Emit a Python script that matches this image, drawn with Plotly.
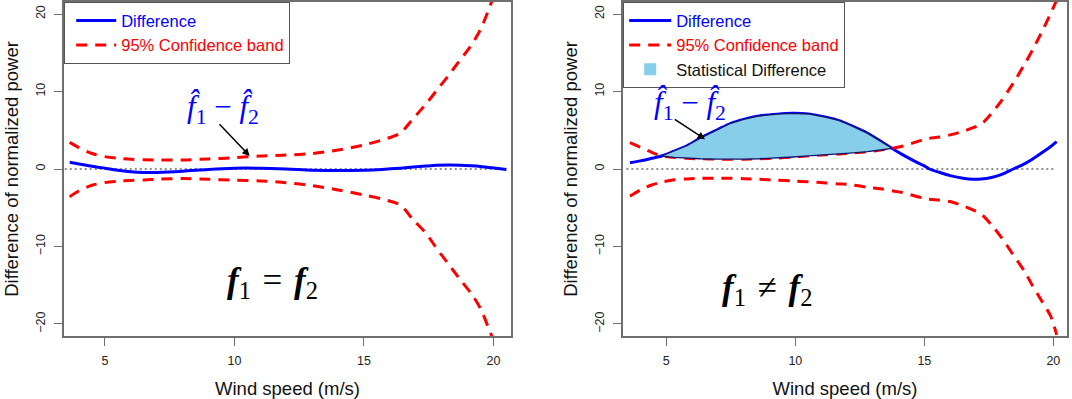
import numpy as np
import plotly.graph_objects as go

# ---------------- data: left panel (f1 = f2) ----------------
wind_left = [3.64, 4.0, 4.5, 5.0, 5.5, 6.0, 6.5, 7.0, 8.0, 9.0, 10.0, 11.0, 12.0, 13.0,
             14.0, 15.0, 15.7, 16.4, 16.9, 17.4, 17.8, 18.25, 18.7, 19.15, 19.5, 19.8, 20.1, 20.5]
diff_left = [0.86, 0.65, 0.35, 0.1, -0.15, -0.35, -0.45, -0.45, -0.3, -0.05, 0.1, 0.1, 0.0, -0.15,
             -0.2, -0.15, -0.05, 0.1, 0.25, 0.38, 0.47, 0.52, 0.5, 0.42, 0.32, 0.2, 0.1, -0.05]
upper_left = [3.44, 2.75, 2.0, 1.6, 1.38, 1.25, 1.18, 1.16, 1.16, 1.3, 1.45, 1.68, 1.8, 2.0,
              2.45, 3.1, 3.74, 4.62, 6.5, 8.4, 10.1, 12.0, 14.0, 16.0, 18.0, 20.4, 23.2, 27.0]
lower_left = [-3.57, -2.8, -2.1, -1.75, -1.58, -1.48, -1.42, -1.33, -1.22, -1.33, -1.45, -1.55, -1.76, -2.15,
              -2.7, -3.35, -3.87, -4.65, -6.55, -8.3, -10.2, -12.2, -14.2, -16.1, -18.0, -20.4, -23.0, -27.0]

# ---------------- data: right panel (f1 != f2) ----------------
wind_right = [3.59, 4.0, 4.4, 4.82, 5.3, 5.8, 6.3, 7.0, 7.5, 8.0, 8.6, 9.3, 9.9, 10.5, 11.2, 11.7,
              12.1, 12.8, 13.3, 13.74, 14.1, 14.6, 15.0, 15.2, 15.6, 16.0, 16.5, 16.9, 17.2, 17.6,
              18.0, 18.45, 18.9, 19.2, 19.6, 19.9, 20.13]
diff_right = [0.82, 1.05, 1.35, 1.68, 2.3, 3.0, 3.95, 5.1, 5.9, 6.4, 6.84, 7.08, 7.18, 7.1, 6.67, 6.23,
              5.68, 4.6, 3.6, 2.67, 1.95, 1.05, 0.4, 0.0, -0.45, -0.85, -1.2, -1.33, -1.3, -1.1,
              -0.7, 0.0, 0.7, 1.3, 2.2, 2.9, 3.52]
upper_right = [3.4, 2.8, 2.2, 1.68, 1.5, 1.38, 1.32, 1.27, 1.25, 1.27, 1.32, 1.42, 1.55, 1.7, 1.85, 1.94,
               2.05, 2.24, 2.45, 2.67, 2.9, 3.4, 3.83, 3.95, 4.12, 4.4, 4.85, 5.35, 5.75, 7.15,
               8.85, 11.1, 13.6, 15.4, 18.0, 20.1, 21.8]
lower_right = [-3.5, -2.7, -2.1, -1.7, -1.4, -1.28, -1.2, -1.2, -1.2, -1.25, -1.33, -1.45, -1.55, -1.65, -1.8, -1.92,
               -2.0, -2.35, -2.55, -2.8, -3.0, -3.45, -3.78, -3.9, -4.02, -4.2, -4.75, -5.3, -5.8, -7.2,
               -8.9, -11.1, -13.3, -15.1, -17.3, -19.0, -21.4]

# reference (zero) lines
zero_x_left = [3.45, 20.5]
zero_x_right = [3.45, 20.0]
zero_y = [0, 0]

x_ticks = [5, 10, 15, 20]
y_ticks = [-20, -10, 0, 10, 20]

BLUE = "#0000FF"
RED = "#FF0000"
SKY = "#87CEEB"
AXC = "#6e6e6e"
FONT = "Liberation Sans, Arial, sans-serif"
MATHFONT = "Liberation Serif, DejaVu Serif, serif"
DASH = "11px,8px"

fig = go.Figure()

def add_panel(xa, ya, legend, wind, diff, upper, lower, zx):
    fig.add_trace(go.Scatter(x=zx, y=zero_y, xaxis=xa, yaxis=ya, mode="lines",
                             line=dict(color="#222222", width=1, dash="2px,3px"),
                             showlegend=False, hoverinfo="skip"))
    fig.add_trace(go.Scatter(x=wind, y=diff, xaxis=xa, yaxis=ya, mode="lines",
                             line=dict(color=BLUE, width=3, shape="spline", smoothing=0.8),
                             name=f"<span style='color:{BLUE}'>Difference</span>", legend=legend))
    fig.add_trace(go.Scatter(x=wind, y=upper, xaxis=xa, yaxis=ya, mode="lines",
                             line=dict(color=RED, width=3, dash=DASH, shape="spline", smoothing=0.8),
                             name=f"<span style='color:{RED}'>95% Confidence band</span>", legend=legend))
    fig.add_trace(go.Scatter(x=wind, y=lower, xaxis=xa, yaxis=ya, mode="lines",
                             line=dict(color=RED, width=3, dash=DASH, shape="spline", smoothing=0.8),
                             showlegend=False, legend=legend))

add_panel("x", "y", "legend", wind_left, diff_left, upper_left, lower_left, zero_x_left)
add_panel("x2", "y2", "legend2", wind_right, diff_right, upper_right, lower_right, zero_x_right)

# statistical-difference region (difference above the upper band)
wr = np.array(wind_right)
dr = np.array(diff_right)
ur = np.array(upper_right)
mask = dr >= ur - 1e-9
fx = np.concatenate([wr[mask], wr[mask][::-1]])
fy = np.concatenate([dr[mask], ur[mask][::-1]])
fig.add_trace(go.Scatter(x=fx, y=fy, xaxis="x2", yaxis="y2", mode="lines", fill="toself",
                         fillcolor=SKY, line=dict(color="#14146e", width=1.3),
                         showlegend=False, hoverinfo="skip"))
fig.add_trace(go.Scatter(x=[None], y=[None], xaxis="x2", yaxis="y2", mode="markers",
                         marker=dict(symbol="square", size=12, color=SKY),
                         name="Statistical Difference", legend="legend2"))

W, H = 1072, 399
yb, yt = 1 - 336 / H, 1 - 2 / H
axis_common = dict(showline=True, mirror=True, linecolor=AXC, linewidth=1.5,
                   ticks="outside", ticklen=8, tickcolor=AXC, tickwidth=1.3,
                   showgrid=False, zeroline=False,
                   tickfont=dict(size=12.5, color="#222222", family=FONT))
xtitle = dict(text="Wind speed (m/s)", font=dict(size=18.5, color="#111111", family=FONT), standoff=15)
ytitle = dict(text="Difference of normalized power", font=dict(size=18.5, color="#111111", family=FONT), standoff=11)

fig.update_layout(
    width=W, height=H,
    margin=dict(l=0, r=0, t=0, b=0),
    paper_bgcolor="white", plot_bgcolor="white",
    font=dict(family=FONT),
    xaxis=dict(domain=[64 / W, 511 / W], range=[3.42, 20.68], tickvals=x_ticks, anchor="y",
               title=xtitle, ticklabelstandoff=4, **axis_common),
    yaxis=dict(domain=[yb, yt], range=[-21.55, 21.55], tickvals=y_ticks, anchor="x",
               tickangle=-90, title=ytitle, ticklabelstandoff=4, **axis_common),
    xaxis2=dict(domain=[623 / W, 1067 / W], range=[3.32, 20.53], tickvals=x_ticks, anchor="y2",
                title=xtitle, ticklabelstandoff=4, **axis_common),
    yaxis2=dict(domain=[yb, yt], range=[-21.55, 21.55], tickvals=y_ticks, anchor="x2",
                tickangle=-90, title=ytitle, ticklabelstandoff=4, **axis_common),
    legend=dict(x=64 / W, y=yt, xanchor="left", yanchor="top", bgcolor="white",
                bordercolor="#555555", borderwidth=1.2, font=dict(size=16.5, family=FONT),
                tracegroupgap=0, itemwidth=40, indentation=6),
    legend2=dict(x=623 / W, y=yt, xanchor="left", yanchor="top", bgcolor="white",
                 bordercolor="#555555", borderwidth=1.2, font=dict(size=16.5, family=FONT, color="#111111"),
                 tracegroupgap=0, itemwidth=42),
    showlegend=True,
)

math_l = "<i>f\u0302</i><sub>1</sub> \u2212 <i>f\u0302</i><sub>2</sub>"
anns = [
    dict(x=9.55, y=7.8, xref="x", yref="y", text=math_l, showarrow=False,
         font=dict(size=31, color=BLUE, family=MATHFONT)),
    dict(x=10.59, y=1.68, ax=9.37, ay=5.97, xref="x", yref="y", axref="x", ayref="y",
         text="", showarrow=True, arrowhead=2, arrowsize=1, arrowwidth=1.5, arrowcolor="black"),
    dict(x=11.48, y=-14.7, xref="x", yref="y",
         text="<b><i>f</i></b><sub>1</sub>\u2004=\u2004<b><i>f</i></b><sub>2</sub>", showarrow=False,
         font=dict(size=35, color="black", family=MATHFONT)),
    dict(x=5.92, y=8.3, xref="x2", yref="y2", text=math_l, showarrow=False,
         font=dict(size=31, color=BLUE, family=MATHFONT)),
    dict(x=6.5, y=3.83, ax=5.27, ay=6.54, xref="x2", yref="y2", axref="x2", ayref="y2",
         text="", showarrow=True, arrowhead=2, arrowsize=1, arrowwidth=1.5, arrowcolor="black"),
    dict(x=8.9, y=-15.6, xref="x2", yref="y2",
         text="<b><i>f</i></b><sub>1</sub>\u2004\u2260\u2004<b><i>f</i></b><sub>2</sub>", showarrow=False,
         font=dict(size=35, color="black", family=MATHFONT)),
]
fig.update_layout(annotations=anns)

fig.write_html("out.html", config={"displayModeBar": False},
               post_script="document.body.style.margin='0px';")
